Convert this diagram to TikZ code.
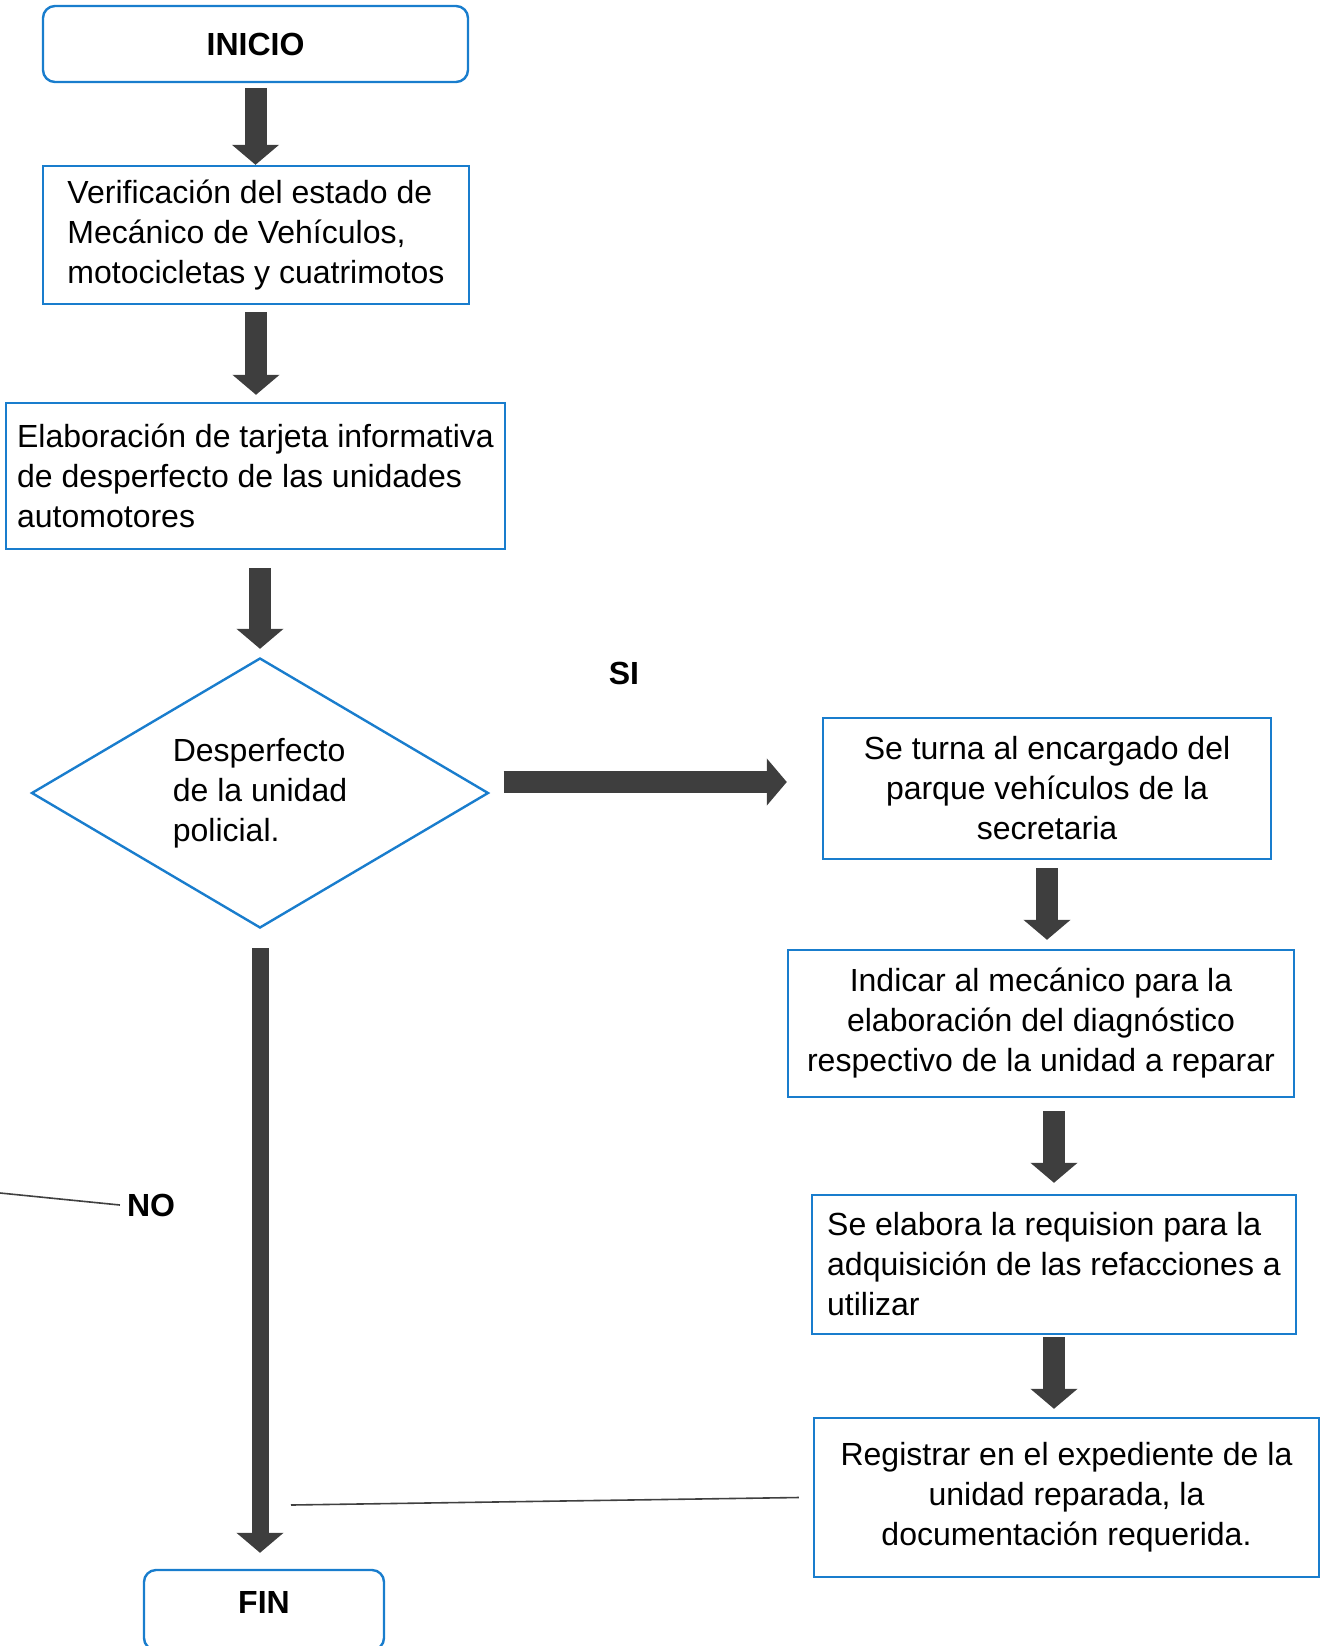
\documentclass[tikz,border=0pt]{standalone}
\usepackage{fontspec}
\setmainfont{Liberation Sans}
\usepackage{tikz}
\usetikzlibrary{shapes.geometric,arrows.meta,positioning,calc}

\definecolor{boxblue}{RGB}{25,125,205}
\definecolor{arrowgray}{RGB}{62,62,62}

\begin{document}
\begin{tikzpicture}[x=0.5pt,y=-0.5pt,
    every node/.style={font=\fontsize{16pt}{20pt}\selectfont},
    startbox/.style={draw=boxblue, line width=1.2pt, rounded corners=6pt, font=\fontsize{16pt}{20pt}\selectfont\bfseries},
    procbox/.style={draw=boxblue, line width=1.2pt, inner sep=4pt},
    decision/.style={draw=boxblue, line width=1.2pt, diamond, aspect=1.7, align=left},
    bigarrow/.style={arrowgray, line width=11pt, -{Triangle[width=23pt,length=10pt]}},
    thinline/.style={black!75, line width=0.8pt}]
        \useasboundingbox (0,0) rectangle (1325,1646);

        % Left column
        \node[startbox, minimum width=212.5pt, minimum height=38pt] (inicio) at (255.5,44) {INICIO};
        \node[procbox, align=left, minimum width=213pt, minimum height=69pt] (verif) at (256,235)
            {Verificación del estado de\\ Mecánico de Vehículos,\\motocicletas y cuatrimotos};
        \node[procbox, align=left, minimum width=249.5pt, minimum height=73pt] (elab) at (255.5,476)
            {Elaboración de tarjeta informativa\\de desperfecto de las unidades\\automotores};
        \node[decision, minimum width=228.5pt, minimum height=135pt] (dec) at (260,793)
            {Desperfecto\\de la unidad\\policial.};
        \node[startbox, minimum width=120pt, minimum height=40pt, text depth=8pt] (fin) at (264,1610) {FIN};

        % Right column
        \node[procbox, align=center, minimum width=224pt, minimum height=70.5pt] (turna) at (1047,788.5)
            {Se turna al encargado del\\parque vehículos de la\\secretaria};
        \node[procbox, align=center, minimum width=253pt, minimum height=73.5pt] (indicar) at (1041,1023.5)
            {Indicar al mecánico para la\\elaboración del diagnóstico\\respectivo de la unidad a reparar};
        \node[procbox, align=left, minimum width=242pt, minimum height=69.5pt] (requis) at (1054,1264.5)
            {Se elabora la requision para la\\adquisición de las refacciones a\\utilizar};
        \node[procbox, align=center, minimum width=252.5pt, minimum height=79.5pt] (regist) at (1066.5,1497.5)
            {Registrar en el expediente de la\\unidad reparada, la\\documentación requerida.};

        % Labels
        \node[font=\fontsize{16pt}{20pt}\selectfont\bfseries] (si) at (624,673) {SI};
        \node[font=\fontsize{16pt}{20pt}\selectfont\bfseries] (no) at (151,1205) {NO};
        \coordinate (nostart) at (0,1193);
        \coordinate (linkend) at (291,1505);

        % Arrows
        \draw[bigarrow, shorten <=2.5pt] (inicio.south) -- (inicio.south |- verif.north);
        \draw[bigarrow, shorten <=3.5pt, shorten >=3.5pt] (verif.south) -- (verif.south |- elab.north);
        \draw[bigarrow, shorten <=9pt, shorten >=4pt] (elab.south -| dec.north) -- (dec.north);
        \draw[bigarrow, shorten <=7pt, shorten >=17.5pt] ([yshift=5.5pt]dec.east) -- ([yshift=5.5pt]dec.east -| turna.west);
        \draw[bigarrow, shorten <=4pt, shorten >=4.5pt] (turna.south) -- (turna.south |- indicar.north);
        \draw[bigarrow, shorten <=6.5pt, shorten >=5.5pt] (indicar.south -| requis.north) -- (requis.north);
        \draw[bigarrow, shorten <=1pt, shorten >=4pt] (requis.south) -- (requis.south |- regist.north);
        \draw[bigarrow, line width=8.5pt, shorten <=9.5pt, shorten >=8pt] (dec.south) -- (dec.south |- fin.north);

        % Thin lines
        \draw[thinline] (nostart) -- (no.west);
        \draw[thinline] ([xshift=-7pt]regist.west) -- (linkend);
    \end{tikzpicture}
\end{document}
